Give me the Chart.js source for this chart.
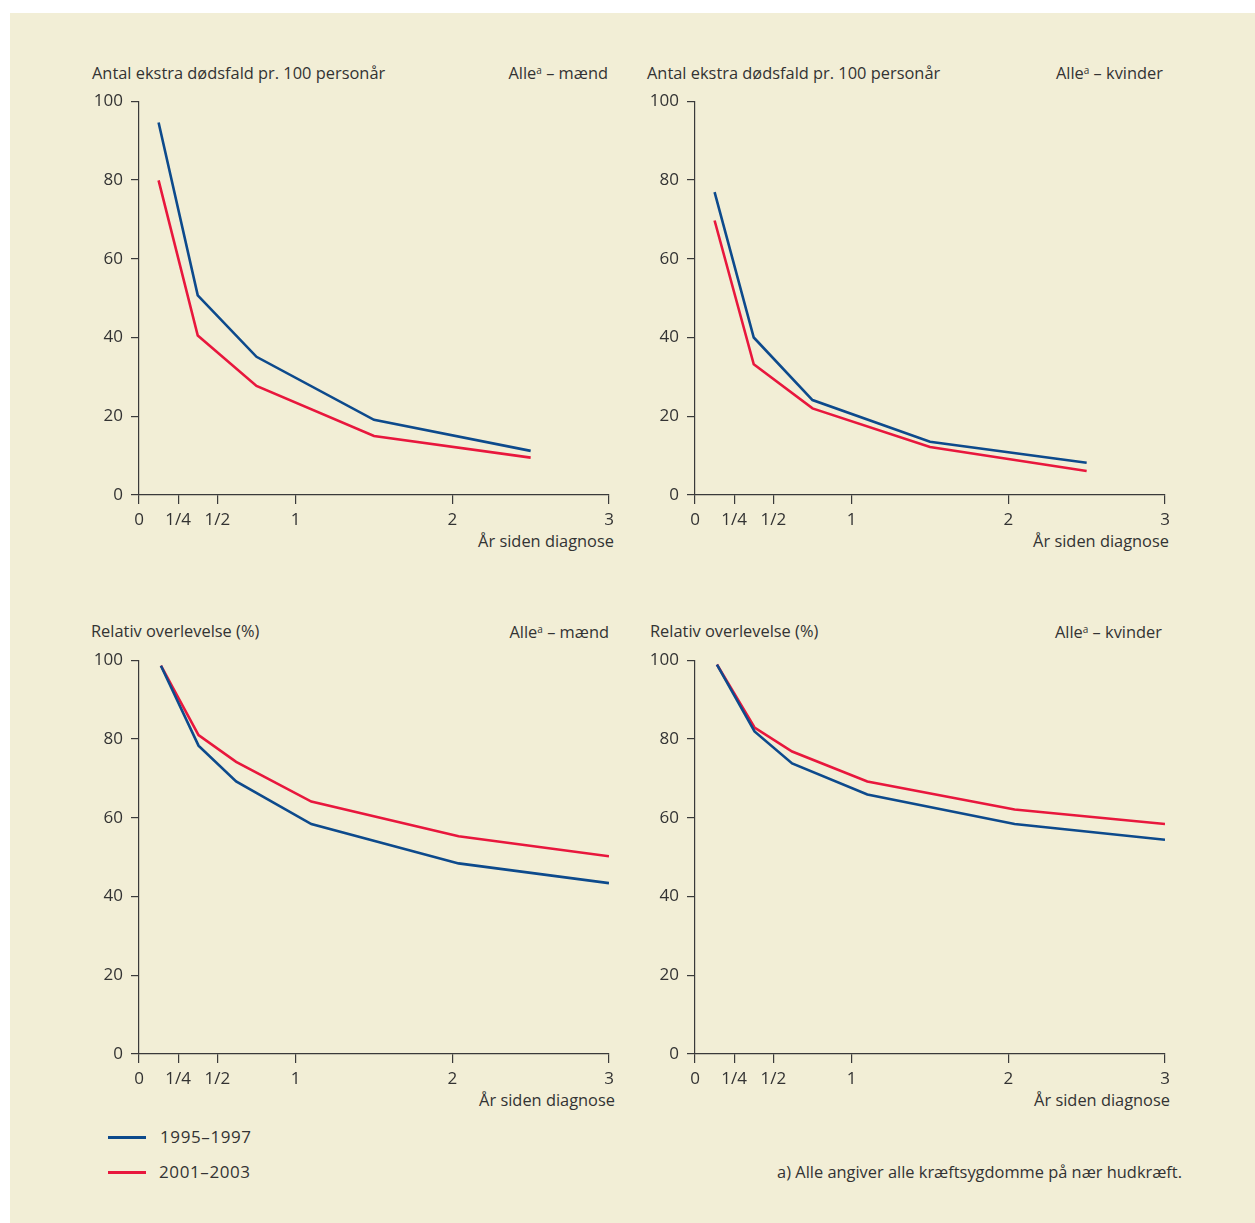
<!DOCTYPE html>
<html>
<head>
<meta charset="utf-8">
<script src="https://cdn.jsdelivr.net/npm/chart.js@4.4.0/dist/chart.umd.min.js"></script>
<style>
  body { margin: 0; background: #fff; font-family: "Open Sans", sans-serif; color: #333; }
  #panel { position: absolute; left: 10px; top: 13px; width: 1245px; height: 1210px; background: #f2eed6; }
  .txt { position: absolute; font-size: 16.4px; line-height: 20px; white-space: nowrap; color: #333; }
  .r { text-align: right; }
  .num { font-size: 17px; letter-spacing: 0.6px; }
  sup { font-size: 10px; vertical-align: 5px; line-height: 0; }
  canvas { position: absolute; }
  .leg { position: absolute; height: 3px; width: 38px; }
</style>
</head>
<body>
<div id="panel"></div>

<div class="txt" style="left:92px;top:63px">Antal ekstra dødsfald pr. 100 personår</div>
<div class="txt r" style="right:647px;top:63px">Alle<sup>a</sup> – mænd</div>
<div class="txt" style="left:647px;top:63px">Antal ekstra dødsfald pr. 100 personår</div>
<div class="txt r" style="right:92px;top:63px">Alle<sup>a</sup> – kvinder</div>
<div class="txt r" style="right:641px;top:531px">År siden diagnose</div>
<div class="txt r" style="right:86px;top:531px">År siden diagnose</div>

<div class="txt" style="left:91px;top:621px">Relativ overlevelse (%)</div>
<div class="txt r" style="right:646px;top:622px">Alle<sup>a</sup> – mænd</div>
<div class="txt" style="left:650px;top:621px">Relativ overlevelse (%)</div>
<div class="txt r" style="right:93px;top:622px">Alle<sup>a</sup> – kvinder</div>
<div class="txt r" style="right:640px;top:1090px">År siden diagnose</div>
<div class="txt r" style="right:85px;top:1090px">År siden diagnose</div>

<div class="leg" style="left:108px;top:1136px;background:#0d4a8c"></div>
<div class="txt num" style="left:160px;top:1127px">1995–1997</div>
<div class="leg" style="left:108px;top:1171px;background:#e8173d"></div>
<div class="txt num" style="left:159px;top:1162px">2001–2003</div>
<div class="txt r" style="right:73px;top:1162px">a) Alle angiver alle kræftsygdomme på nær hudkræft.</div>

<canvas id="c1"></canvas>
<canvas id="c2"></canvas>
<canvas id="c3"></canvas>
<canvas id="c4"></canvas>

<script>
// data
const tDeaths = [0.125, 0.375, 0.75, 1.5, 2.5];
const deathsMen9597 = [94.6, 50.7, 35.1, 19.1, 11.2];
const deathsMen0103 = [79.9, 40.5, 27.7, 15.0, 9.5];
const deathsWomen9597 = [76.9, 40.0, 24.1, 13.5, 8.2];
const deathsWomen0103 = [69.7, 33.2, 22.0, 12.2, 6.1];

const tSurv = [0.14, 0.38, 0.62, 1.1, 2.04, 3];
const survMen9597 = [98.6, 78.3, 69.2, 58.4, 48.4, 43.4];
const survMen0103 = [98.6, 81.0, 74.2, 64.1, 55.3, 50.2];
const survWomen9597 = [98.9, 81.9, 73.8, 65.9, 58.4, 54.4];
const survWomen0103 = [98.9, 82.9, 76.8, 69.2, 62.1, 58.4];

const xTickValues = [0, 0.25, 0.5, 1, 2, 3];
const xTickLabels = ['0', '1/4', '1/2', '1', '2', '3'];
const seriesLabels = ['1995–1997', '2001–2003'];

const blue = '#0d4a8c';
const red = '#e8173d';
const axisColor = '#3a3a3a';
const tickFont = { family: 'Open Sans', size: 17 };

function pts(xs, ys) {
    return xs.map((x, i) => ({ x: x, y: ys[i] }));
}

function plotar(id, left, top, xs, s1, s2) {
    const cv = document.getElementById(id);
    // canvas box chosen so chart area is 470 x 395
    cv.style.left = left + 'px';
    cv.style.top = top + 'px';
    cv.width = 545;
    cv.height = 444;
    cv.style.width = '545px';
    cv.style.height = '444px';
    new Chart(cv.getContext('2d'), {
        type: 'line',
        data: {
            datasets: [
                { label: seriesLabels[0], data: pts(xs, s1), borderColor: blue, borderWidth: 2.6, pointRadius: 0, tension: 0, fill: false },
                { label: seriesLabels[1], data: pts(xs, s2), borderColor: red, borderWidth: 2.6, pointRadius: 0, tension: 0, fill: false }
            ]
        },
        options: {
            responsive: false,
            animation: false,
            layout: { padding: { left: 0, right: 16, top: 12, bottom: 0 } },
            plugins: { legend: { display: false }, tooltip: { enabled: false } },
            scales: {
                x: {
                    type: 'linear', min: 0, max: 3,
                    afterBuildTicks: s => { s.ticks = xTickValues.map(v => ({ value: v })); },
                    afterFit: s => { s.height = 32; },
                    ticks: {
                        autoSkip: false, maxRotation: 0, padding: 6, color: '#333', font: tickFont,
                        callback: v => xTickLabels[xTickValues.indexOf(v)]
                    },
                    grid: { drawOnChartArea: false, drawTicks: true, tickLength: 9, color: axisColor, lineWidth: 1.2 },
                    border: { color: axisColor, width: 1.2 }
                },
                y: {
                    min: 0, max: 100,
                    afterFit: s => { s.width = 59; },
                    ticks: { stepSize: 20, padding: 8, color: '#333', font: tickFont },
                    grid: { drawOnChartArea: false, drawTicks: true, tickLength: 8, color: axisColor, lineWidth: 1.2 },
                    border: { color: axisColor, width: 1.2 }
                }
            }
        }
    });
}

window.onload = function () {
    plotar('c1', 80, 83, tDeaths, deathsMen9597, deathsMen0103);
    plotar('c2', 636, 83, tDeaths, deathsWomen9597, deathsWomen0103);
    plotar('c3', 80, 642, tSurv, survMen9597, survMen0103);
    plotar('c4', 636, 642, tSurv, survWomen9597, survWomen0103);
};
</script>
</body>
</html>
